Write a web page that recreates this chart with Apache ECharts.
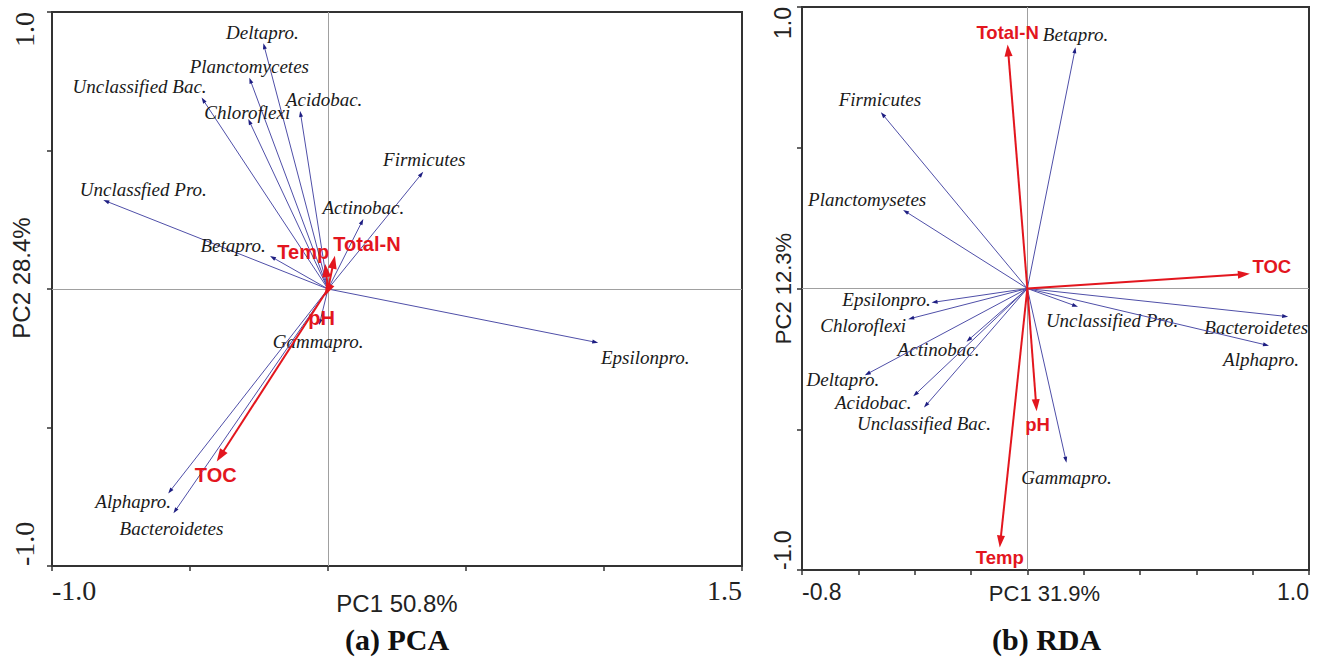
<!DOCTYPE html>
<html>
<head>
<meta charset="utf-8">
<script src="https://cdn.jsdelivr.net/npm/echarts@6/dist/echarts.min.js"></script>
<style>
html,body{margin:0;padding:0;background:#fff;}
#chart{width:1318px;height:660px;}
</style>
</head>
<body>
<div id="chart"></div>
<script>
// ---------- DATA ----------
// (a) PCA
const pcaSpecies = ['Deltapro.', 'Planctomycetes', 'Unclassified Bac.', 'Chloroflexi', 'Acidobac.', 'Firmicutes', 'Unclassfied Pro.', 'Actinobac.', 'Betapro.', 'Epsilonpro.', 'Gammapro.', 'Alphapro.', 'Bacteroidetes'];
const pcaSpeciesX = [-0.234, -0.285, -0.458, -0.289, -0.101, 0.345, -0.814, 0.128, -0.210, 0.979, -0.032, -0.579, -0.560];
const pcaSpeciesY = [0.887, 0.763, 0.691, 0.614, 0.643, 0.423, 0.321, 0.253, 0.119, -0.194, -0.130, -0.738, -0.810];
const pcaEnv = ['TOC', 'Temp', 'Total-N', 'pH'];
const pcaEnvX = [-0.403, -0.010, 0.025, -0.012];
const pcaEnvY = [-0.623, 0.090, 0.120, -0.025];
const pcaXTicks = ['-1.0', '1.5'];
const pcaYTicks = ['-1.0', '1.0'];
const pcaXName = 'PC1 50.8%';
const pcaYName = 'PC2 28.4%';
const pcaTitle = '(a) PCA';

// (b) RDA
const rdaSpecies = ['Betapro.', 'Firmicutes', 'Planctomysetes', 'Epsilonpro.', 'Chloroflexi', 'Actinobac.', 'Deltapro.', 'Acidobac.', 'Unclassified Bac.', 'Unclassified Pro.', 'Bacteroidetes', 'Alphapro.', 'Gammapro.'];
const rdaSpeciesX = [0.171, -0.520, -0.441, -0.340, -0.423, -0.216, -0.577, -0.405, -0.367, 0.180, 0.926, 0.858, 0.139];
const rdaSpeciesY = [0.857, 0.626, 0.279, -0.050, -0.109, -0.189, -0.308, -0.383, -0.423, -0.065, -0.100, -0.203, -0.619];
const rdaEnv = ['Total-N', 'TOC', 'pH', 'Temp'];
const rdaEnvX = [-0.070, 0.790, 0.033, -0.098];
const rdaEnvY = [0.867, 0.052, -0.436, -0.920];
const rdaXTicks = ['-0.8', '1.0'];
const rdaYTicks = ['-1.0', '1.0'];
const rdaXName = 'PC1 31.9%';
const rdaYName = 'PC2 12.3%';
const rdaTitle = '(b) RDA';

// ---------- LAYOUT (label pixel offsets from arrow tips) ----------
const pcaSpeciesLabelOff = [[-1,-11],[0,-11],[-62,-11],[-1,-6],[24,-11],[1,-12],[40,-11],[0,-11],[-37,-11],[47,15],[-1,16],[-35,8],[-2,15]];
const pcaEnvLabelOff = [[-1,13],[-22,-12],[32,-12],[-3,22]];
const rdaSpeciesLabelOff = [[0,-13],[-1,-13],[-36,-10],[-45,-3],[-45,6],[-28,8],[-22,4],[-40,6],[0,16],[34,14],[-32,11],[-8,14],[0,15]];
const rdaEnvLabelOff = [[0,-12],[22,-7],[1,13],[0,10]];

const BLUE = {line: '#4f4fa8', head: '#1e1e82', width: 1, headLen: 6, headWidth: 4,
  font: 'italic 19px "Liberation Serif"', text: '#1a1a1a'};
const RED_A = {line: '#e3161e', head: '#e3161e', width: 2, headLen: 13, headWidth: 9,
  font: 'bold 20px "Liberation Sans"', text: '#e3161e'};
const RED_B = {line: '#e3161e', head: '#e3161e', width: 2, headLen: 12, headWidth: 8,
  font: 'bold 18.5px "Liberation Sans"', text: '#e3161e'};

function arrowSeries(names, xs, ys, offsets, st, gi, withZero) {
  const s = {
    type: 'custom',
    xAxisIndex: gi, yAxisIndex: gi,
    silent: true,
    clip: false,
    z: st === BLUE ? 3 : 4,
    data: names.map((n, i) => [xs[i], ys[i], i]),
    renderItem: function (params, api) {
      const o = api.coord([0, 0]);
      const p = api.coord([api.value(0), api.value(1)]);
      const idx = api.value(2);
      const dx = p[0] - o[0], dy = p[1] - o[1];
      const len = Math.hypot(dx, dy) || 1;
      const ux = dx / len, uy = dy / len;
      const hl = st.headLen, hw = st.headWidth / 2;
      const b = [p[0] - ux * hl, p[1] - uy * hl];
      const l = [b[0] - uy * hw, b[1] + ux * hw];
      const r = [b[0] + uy * hw, b[1] - ux * hw];
      const off = offsets[idx];
      return {
        type: 'group',
        children: [
          {type: 'line', shape: {x1: o[0], y1: o[1], x2: b[0] + ux * 2, y2: b[1] + uy * 2},
            style: {stroke: st.line, lineWidth: st.width}},
          {type: 'polygon', shape: {points: [p, l, r]}, style: {fill: st.head}},
          {type: 'text', x: p[0] + off[0], y: p[1] + off[1],
            style: {text: names[idx], font: st.font, fill: st.text, align: 'center', verticalAlign: 'middle'}}
        ]
      };
    }
  };
  if (withZero) {
    s.markLine = {
      silent: true, symbol: 'none', z: 1, animation: false,
      label: {show: false},
      lineStyle: {color: '#a0a0a0', width: 1, type: 'solid'},
      data: [{xAxis: 0}, {yAxis: 0}]
    };
  }
  return s;
}

function axisOpt(isY, gi, min, max, interval, ticks, name, cfg) {
  const o = {
    gridIndex: gi, type: 'value', min: min, max: max, interval: interval,
    name: name, nameLocation: 'middle', nameGap: cfg.nameGap, nameMoveOverlap: false,
    nameTextStyle: {fontFamily: 'Liberation Sans', fontSize: cfg.nameSize, color: '#222', padding: cfg.namePad},
    axisLine: {show: true, onZero: false, lineStyle: {color: '#333', width: 2}},
    axisTick: {show: true, inside: false, length: 5, lineStyle: {color: '#333', width: 1.5}},
    splitLine: {show: false},
    axisLabel: {
      show: true, margin: cfg.margin, color: '#222',
      fontFamily: cfg.tickFont, fontSize: cfg.tickSize,
      showMinLabel: true, showMaxLabel: true, hideOverlap: false,
      alignMinLabel: 'left', alignMaxLabel: 'right',
      formatter: function (v) {
        if (Math.abs(v - min) < 1e-6) return ticks[0];
        if (Math.abs(v - max) < 1e-6) return ticks[1];
        return '';
      }
    }
  };
  if (isY) { o.nameRotate = 90; o.axisLabel.rotate = 90; }
  return o;
}

const chart = echarts.init(document.getElementById('chart'), null, {renderer: 'svg'});
chart.setOption({
  animation: false,
  backgroundColor: '#fff',
  grid: [
    {left: 52, top: 12, width: 690, height: 554, show: true, borderColor: '#333', borderWidth: 2,
      backgroundColor: 'transparent', containLabel: false, outerBoundsMode: 'none'},
    {left: 802, top: 7, width: 507, height: 563, show: true, borderColor: '#333', borderWidth: 2,
      backgroundColor: 'transparent', containLabel: false, outerBoundsMode: 'none'}
  ],
  title: [
    {text: pcaTitle, left: 345, top: 624, padding: 0,
      textStyle: {fontFamily: 'Liberation Serif', fontWeight: 'bold', fontSize: 30, color: '#111'}},
    {text: rdaTitle, left: 992, top: 624, padding: 0,
      textStyle: {fontFamily: 'Liberation Serif', fontWeight: 'bold', fontSize: 30, color: '#111'}}
  ],
  xAxis: [
    axisOpt(false, 0, -1.0, 1.5, 0.5, pcaXTicks, pcaXName,
      {nameGap: 25, nameSize: 24, namePad: [0, 0, 0, 0], margin: 10, tickFont: 'Liberation Serif', tickSize: 28}),
    axisOpt(false, 1, -0.8, 1.0, 0.2, rdaXTicks, rdaXName,
      {nameGap: 12, nameSize: 22, namePad: [0, 22, 0, 0], margin: 10, tickFont: 'Liberation Sans', tickSize: 23})
  ],
  yAxis: [
    axisOpt(true, 0, -1.0, 1.0, 0.5, pcaYTicks, pcaYName,
      {nameGap: 19, nameSize: 24, namePad: [0, 0, 0, 22], margin: 14, tickFont: 'Liberation Serif', tickSize: 28}),
    axisOpt(true, 1, -1.0, 1.0, 0.5, rdaYTicks, rdaYName,
      {nameGap: 8, nameSize: 22, namePad: [0, 0, 0, 0], margin: 8, tickFont: 'Liberation Sans', tickSize: 23})
  ],
  series: [
    arrowSeries(pcaSpecies, pcaSpeciesX, pcaSpeciesY, pcaSpeciesLabelOff, BLUE, 0, true),
    arrowSeries(pcaEnv, pcaEnvX, pcaEnvY, pcaEnvLabelOff, RED_A, 0, false),
    arrowSeries(rdaSpecies, rdaSpeciesX, rdaSpeciesY, rdaSpeciesLabelOff, BLUE, 1, true),
    arrowSeries(rdaEnv, rdaEnvX, rdaEnvY, rdaEnvLabelOff, RED_B, 1, false)
  ]
});
</script>
</body>
</html>
